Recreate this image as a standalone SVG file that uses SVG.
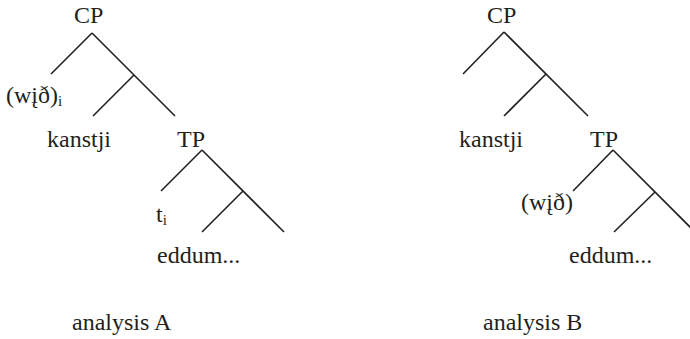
<svg xmlns="http://www.w3.org/2000/svg" width="690" height="339" viewBox="0 0 690 339">
<style>
text{font-family:'Liberation Serif','Times New Roman',Times,'DejaVu Serif',serif;font-size:24px;fill:#231f20}
.sub{font-size:15px}
line{stroke:#231f20;stroke-width:1.6;stroke-linecap:butt}
</style>
<rect width="690" height="339" fill="#fff"/>
<g id="connectors">
<line x1="92" y1="33" x2="51" y2="74"/>
<line x1="92" y1="33" x2="175" y2="116"/>
<line x1="134" y1="75" x2="93" y2="116"/>
<line x1="202" y1="150" x2="161" y2="191"/>
<line x1="202" y1="150" x2="284" y2="232"/>
<line x1="243" y1="191" x2="202" y2="232"/>
<line x1="504" y1="32" x2="463" y2="74"/>
<line x1="504" y1="32" x2="588" y2="116"/>
<line x1="546" y1="74" x2="504" y2="116"/>
<line x1="613" y1="150" x2="573" y2="191"/>
<line x1="613" y1="150" x2="696" y2="233"/>
<line x1="655" y1="192" x2="614" y2="232"/>
</g>
<g id="treeA">
<g id="A-CP"><text x="74" y="23">CP</text></g>
<g id="A-wid"><text x="6" y="103">(wįð)<tspan class="sub" dy="3">i</tspan></text></g>
<g id="A-kanstji"><text x="47" y="147">kanstji</text></g>
<g id="A-TP"><text x="177" y="147">TP</text></g>
<g id="A-t"><text x="156" y="222">t<tspan class="sub" dy="3">i</tspan></text></g>
<g id="A-eddum"><text x="157" y="263">eddum...</text></g>
<g id="A-label"><text x="72" y="330">analysis A</text></g>
</g>
<g id="treeB">
<g id="B-CP"><text x="487" y="23">CP</text></g>
<g id="B-kanstji"><text x="459" y="147">kanstji</text></g>
<g id="B-TP"><text x="590" y="147">TP</text></g>
<g id="B-wid"><text x="521" y="210">(wįð)</text></g>
<g id="B-eddum"><text x="569" y="263">eddum...</text></g>
<g id="B-label"><text x="483" y="330">analysis B</text></g>
</g>
</svg>
